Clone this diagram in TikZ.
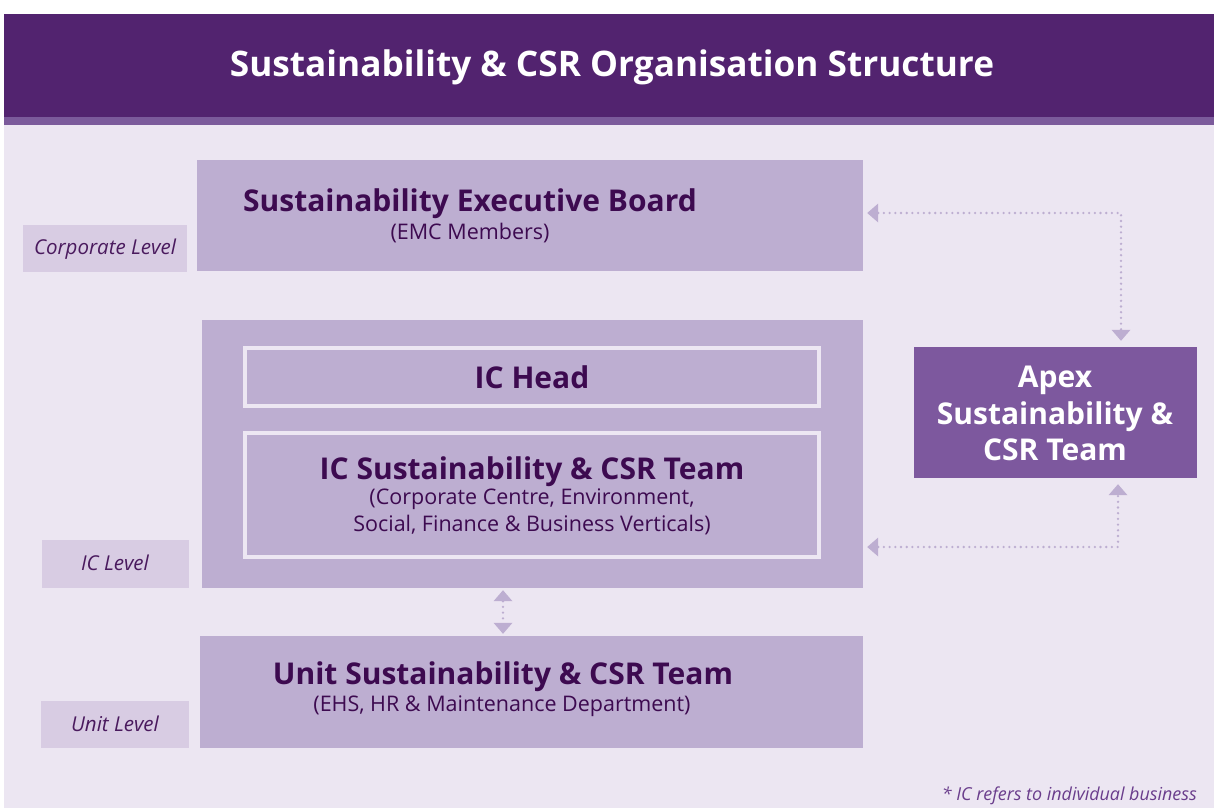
\documentclass[tikz,border=0pt]{standalone}
\usepackage{fontspec}
\setmainfont{Open Sans}
\usetikzlibrary{arrows.meta}
\definecolor{hdr}{HTML}{52236F}
\definecolor{strip}{HTML}{7B5A9B}
\definecolor{bgc}{HTML}{ECE6F2}
\definecolor{boxc}{HTML}{BDAED1}
\definecolor{lblc}{HTML}{D8CCE3}
\definecolor{apexc}{HTML}{7D589E}
\definecolor{dtext}{HTML}{3D0A50}
\definecolor{ltext}{HTML}{4A1A5E}
\definecolor{ftext}{HTML}{6A3D8C}
\definecolor{inb}{HTML}{EDE7F3}
\tikzset{
  x=1pt, y=-1pt,
  mainbox/.style={fill=boxc, draw=none, inner sep=0pt},
  lblbox/.style={fill=lblc, draw=none, inner sep=0pt},
  lbltext/.style={text=ltext, font=\itshape\fontsize{20.5}{24}\selectfont, inner sep=0pt, anchor=base},
  innerbox/.style={fill=boxc, draw=inb, line width=4pt, inner sep=0pt},
  bigtext/.style={text=dtext, font=\bfseries\fontsize{30}{36}\selectfont, inner sep=0pt, anchor=base},
  subtext/.style={text=dtext, font=\fontsize{21.5}{27}\selectfont, inner sep=0pt, anchor=base},
  apextext/.style={text=white, font=\bfseries\fontsize{30}{36}\selectfont, inner sep=0pt, anchor=base},
  dotarrow/.style={draw=boxc, line width=2.6pt, line cap=round,
     dash pattern=on 0pt off 5.7pt,
     {Triangle[width=19pt,length=11pt,fill=boxc,line width=0pt]}-{Triangle[width=19pt,length=11pt,fill=boxc,line width=0pt]}},
}
\begin{document}
\begin{tikzpicture}
\useasboundingbox (0,0) rectangle (1214,808);
\fill[white] (0,0) rectangle (1214,808);
\fill[bgc] (4,117) rectangle (1214,808);
\fill[hdr] (4,14) rectangle (1214,117);
\fill[strip] (4,117) rectangle (1214,125);
\node[text=white, font=\bfseries\fontsize{35.2}{42}\selectfont, inner sep=0pt, anchor=base] (title) at (612,77) {Sustainability \& CSR Organisation Structure};

% corporate level
\node[mainbox, minimum width=666pt, minimum height=111pt] (seb) at (530,215.5) {};
\node[bigtext] (sebt) at (470,211) {Sustainability Executive Board};
\node[subtext] (sebs) at (470,239.5) {(EMC Members)};
\node[lblbox, minimum width=164pt, minimum height=47pt] (corp) at (105,248.5) {};
\node[lbltext] (corpt) at (105,254) {Corporate Level};

% IC level
\node[mainbox, minimum width=661pt, minimum height=268pt] (ic) at (532.5,454) {};
\node[innerbox, minimum width=574pt, minimum height=58pt] (ichead) at (532,377) {};
\node[bigtext] (icheadt) at (532,388) {IC Head};
\node[innerbox, minimum width=574pt, minimum height=124pt] (icteam) at (532,495) {};
\node[bigtext] (icteamt) at (532,479) {IC Sustainability \& CSR Team};
\node[subtext] (icteams1) at (532,504) {(Corporate Centre, Environment,};
\node[subtext] (icteams2) at (532,531) {Social, Finance \& Business Verticals)};
\node[lblbox, minimum width=147pt, minimum height=48pt] (iclvl) at (115.5,564) {};
\node[lbltext] (iclvlt) at (115,570) {IC Level};

% unit level
\node[mainbox, minimum width=663pt, minimum height=112pt] (unit) at (531.5,692) {};
\node[bigtext] (unitt) at (503,684) {Unit Sustainability \& CSR Team};
\node[subtext] (units) at (502,711) {(EHS, HR \& Maintenance Department)};
\node[lblbox, minimum width=148pt, minimum height=47pt] (unitlvl) at (115,724.5) {};
\node[lbltext] (unitlvlt) at (115,731) {Unit Level};

% apex
\node[fill=apexc, minimum width=283pt, minimum height=131pt, inner sep=0pt] (apex) at (1055.5,412.5) {};
\node[apextext] (apex1) at (1055,387.5) {Apex};
\node[apextext] (apex2) at (1055,424) {Sustainability \&};
\node[apextext] (apex3) at (1055,460.5) {CSR Team};

% connectors
\coordinate (c1) at (1121,213);
\coordinate (c2) at (1118,547);
\coordinate (c3) at (503,600);
\draw[dotarrow] ([xshift=4pt]seb.east |- c1) -- (c1) -- ([yshift=6pt]c1 |- apex.north);
\draw[dotarrow] ([xshift=4pt]ic.east |- c2) -- (c2) -- ([yshift=-6pt]c2 |- apex.south);
\draw[dotarrow] ([yshift=-2pt]c3 |- ic.south) -- ([yshift=2pt]c3 |- unit.north);

\node[text=ftext, font=\itshape\fontsize{17.9}{22}\selectfont, anchor=base east, inner sep=0pt] (foot) at (1197,800) {* IC refers to individual business};
\end{tikzpicture}
\end{document}
